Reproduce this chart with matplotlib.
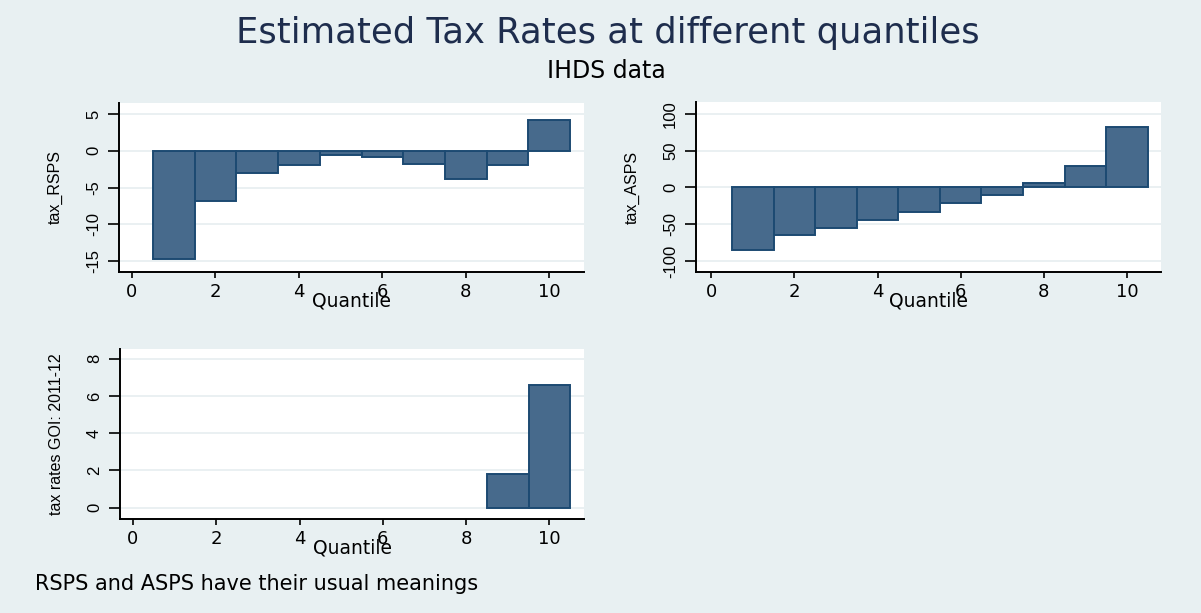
import matplotlib.pyplot as plt

plt.rcParams['font.family'] = ['DejaVu Sans']

quantile = [1, 2, 3, 4, 5, 6, 7, 8, 9, 10]
tax_rsps = [-14.7, -6.8, -3.0, -2.0, -0.6, -0.8, -1.8, -3.9, -2.0, 4.2]
tax_asps = [-84.7, -65.3, -55.4, -43.7, -33.8, -21.6, -9.9, 5.4, 29.3, 82.0]
tax_goi = [0, 0, 0, 0, 0, 0, 0, 0, 1.81, 6.58]

bg = '#e8f0f2'
bar_fill = '#476a8c'
bar_edge = '#1c4a72'
grid_col = '#e6eef0'

fig = plt.figure(figsize=(12.01, 6.13), dpi=100, facecolor=bg)
W, H = 1201, 613


def panel(left, top, right, bottom, y, ylim, yticks, ylabel, xlim):
    ax = fig.add_axes([left / W, 1 - bottom / H, (right - left) / W, (bottom - top) / H])
    ax.set_facecolor('white')
    # zero-height bars are not drawn
    xs = [q for q, v in zip(quantile, y) if v != 0]
    ys = [v for v in y if v != 0]
    ax.bar(xs, ys, width=1.0, color=bar_fill, edgecolor=bar_edge, linewidth=1.4, zorder=3)
    ax.set_xlim(*xlim)
    ax.set_ylim(*ylim)
    ax.set_xticks([0, 2, 4, 6, 8, 10])
    ax.set_yticks(yticks)
    ax.set_yticklabels([str(t) for t in yticks], rotation=90, va='center',
                       family='Liberation Sans', fontsize=12)
    ax.grid(axis='y', color=grid_col, linewidth=1.2, zorder=0)
    for s in ['top', 'right']:
        ax.spines[s].set_visible(False)
    for s in ['left', 'bottom']:
        ax.spines[s].set_linewidth(1.4)
        ax.spines[s].set_color('black')
    ax.tick_params(axis='y', length=8, width=1.2, pad=5)
    ax.tick_params(axis='x', length=4, width=1.2, pad=4, labelsize=13)
    ax.set_xlabel('Quantile', fontsize=13.5, labelpad=-7)
    ax.set_ylabel(ylabel, fontsize=11.5, family='Liberation Sans')
    ax.yaxis.set_label_coords(-56 / (right - left), 0.5)
    return ax


panel(119, 103, 584, 272, tax_rsps, (-16.5, 6.5), [-15, -10, -5, 0, 5], 'tax_RSPS',
      (-0.31, 10.83))
panel(696, 102, 1161, 272, tax_asps, (-115, 116), [-100, -50, 0, 50, 100], 'tax_ASPS',
      (-0.37, 10.82))
panel(120, 349, 584, 519, tax_goi, (-0.61, 8.52), [0, 2, 4, 6, 8], 'tax rates GOI: 2011-12',
      (-0.31, 10.83))

fig.text(608 / W, 1 - 33 / H, 'Estimated Tax Rates at different quantiles', ha='center',
         va='center', fontsize=25.5, color='#1e2d4d')
fig.text(606 / W, 1 - 71 / H, 'IHDS data', ha='center', va='center', fontsize=17, color='black')
fig.text(35 / W, 1 - 584 / H, 'RSPS and ASPS have their usual meanings', ha='left',
         va='center', fontsize=15, color='black')

fig.savefig('out.png', dpi=100, facecolor=bg)
